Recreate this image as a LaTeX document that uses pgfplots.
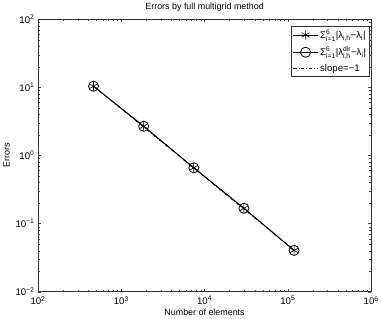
\documentclass[border=0pt]{standalone}
\usepackage{pgfplots}
\pgfplotsset{compat=1.18}
\usepackage{amsmath}
\usepackage{fontspec}
\setmainfont{Liberation Sans}

% (log-log, slope -1)
\pgfplotstableread{
N       err
464     10.4
1856    2.69
7424    0.66
29696   0.168
118784  0.0404
}\errA
\pgfplotstableread{
N       err
464     10.4
1856    2.69
7424    0.66
29696   0.168
118784  0.0404
}\errB
\pgfplotstableread{
N       err
464     10.4
118784  0.0406
}\slope

\begin{document}
\begin{tikzpicture}
\begin{axis}[
    scale only axis,
    width=329pt, height=269pt,
    xmode=log, ymode=log,
    xmin=100, xmax=1000000,
    ymin=0.01, ymax=100,
    xtick={100,1000,10000,100000,1000000},
    xticklabels={10\textsuperscript{2},10\textsuperscript{3},10\textsuperscript{4},10\textsuperscript{5},10\textsuperscript{6}},
    ytick={0.01,0.1,1,10,100},
    yticklabels={10\textsuperscript{−2},10\textsuperscript{−1},10\textsuperscript{0},10\textsuperscript{1},10\textsuperscript{2}},
    tick align=inside,
    major tick length=3pt,
    minor tick length=2pt,
    tick style={black!70, line width=0.4pt},
    axis line style={black!80, line width=0.5pt},
    ticklabel style={font=\fontsize{9.5}{11}\selectfont},
    xticklabel style={yshift=-1pt},
    label style={font=\fontsize{8.8}{10}\selectfont},
    title style={font=\fontsize{8.8}{10}\selectfont, yshift=-2pt},
    title={Errors by full multigrid method},
    xlabel={Number of elements},
    ylabel={Errors},
    xlabel style={yshift=3pt},
    ylabel style={yshift=-1pt},
    legend style={
        at={(0.996,0.975)}, anchor=north east,
        draw=black!80, line width=0.5pt,
        font=\fontsize{9.5}{11}\selectfont,
        inner sep=1.5pt, row sep=3pt,
        cells={anchor=west},
    },
    legend image code/.code={
        \draw[mark repeat=2, mark phase=2, #1]
            plot coordinates {(0cm,0cm) (0.42cm,0cm) (0.84cm,0cm)};
    },
    legend image post style={line width=0.9pt},
]
\addplot[black, line width=0.8pt, mark=asterisk, mark size=4.5pt, mark options={line width=0.6pt}]
    table[x=N, y=err] {\errA};
\addplot[black, line width=0.8pt, mark=o, mark size=5pt, mark options={line width=0.8pt}]
    table[x=N, y=err] {\errB};
\addplot[black, line width=0.6pt, dash dot]
    table[x=N, y=err] {\slope};
\legend{
    Σ$^{\text{6}}_{\text{i=1}}$|λ$_{\text{i,h}}$−λ$_{\text{i}}$|,
    Σ$^{\text{6}}_{\text{i=1}}$|λ$^{\text{dir}}_{\text{i,h}}$−λ$_{\text{i}}$|,
    slope=−1
}
\end{axis}
\end{tikzpicture}
\end{document}
